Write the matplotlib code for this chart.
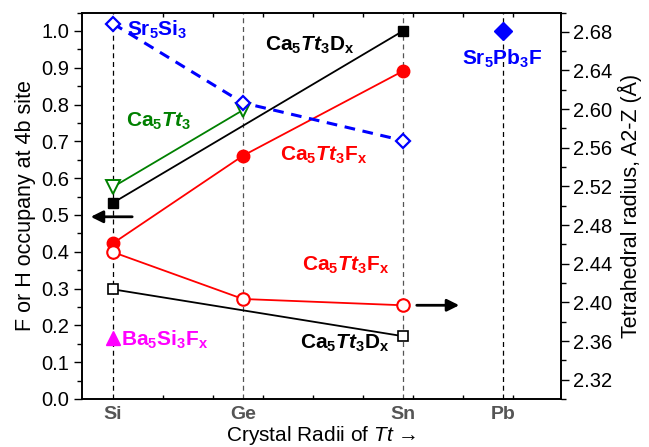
import matplotlib
matplotlib.use("Agg")
import matplotlib.pyplot as plt
from matplotlib.ticker import MultipleLocator, FormatStrFormatter

plt.rcParams['font.family'] = ['Liberation Sans', 'DejaVu Sans']
plt.rcParams['mathtext.fontset'] = 'custom'
plt.rcParams['mathtext.rm'] = 'Liberation Sans'
plt.rcParams['mathtext.it'] = 'Liberation Sans:italic'
plt.rcParams['mathtext.bf'] = 'Liberation Sans:bold'
plt.rcParams['mathtext.bfit'] = 'Liberation Sans:bold:italic'

# Data
elements = ["Si", "Ge", "Sn", "Pb"]
radii = [0.40, 0.53, 0.69, 0.79]

# Left axis (F or H occupancy)
caD_x = [0.40, 0.69]
caD_occ = [0.533, 1.0]
caF_occ = [0.423, 0.661, 0.891]
ca_x = [0.40, 0.53]
ca_occ = [0.576, 0.785]
ba_x = [0.40]
ba_occ = [0.165]

# Right axis (tetrahedral radius)
caF_rad = [2.452, 2.4035, 2.397]
caD_rad = [2.4135, 2.365]
sr_rad = [2.6885, 2.6065, 2.5675]
srpb_x = [0.79]
srpb_rad = [2.681]

fig = plt.figure(figsize=(6.49, 4.47), dpi=100)
ax = fig.add_axes([0.1263, 0.1074, 0.8644 - 0.1263, 0.972 - 0.1074])
ax2 = ax.twinx()

ax.set_xlim(0.369, 0.848)
ax.set_ylim(0, 1.05)
ax2.set_ylim(2.30, 2.70)

# vertical guide lines
vcols = ['black', '#555555', '#555555', 'black']
for r, c in zip(radii, vcols):
    ax.axvline(r, color=c, ls=(0, (4, 3)), lw=0.9, zorder=1)

# left-axis series
ax.plot(caD_x, caD_occ, '-', color='black', lw=1.3, marker='s', ms=7.5,
        mfc='black', mec='black', zorder=3)
ax.plot(radii[:3], caF_occ, '-', color='red', lw=1.3, marker='o', ms=9,
        mfc='red', mec='red', zorder=3)
ax.plot(ca_x, ca_occ, '-', color='green', lw=1.3, marker='v', ms=9.5,
        mfc='white', mec='green', mew=1.4, zorder=3)
ax.plot(ba_x, ba_occ, '^', color='magenta', ms=9.5, zorder=3)

# right-axis series
ax2.plot(radii[:3], sr_rad, color='blue', ls=(0, (3.5, 2.5)), lw=2.2,
         marker='D', ms=7.5, mfc='white', mec='blue', mew=1.6, zorder=3)
ax2.plot(radii[:3], caF_rad, '-', color='red', lw=1.3, marker='o', ms=9,
         mfc='white', mec='red', mew=1.5, zorder=3)
ax2.plot(caD_x, caD_rad, '-', color='black', lw=1.3, marker='s', ms=7.5,
         mfc='white', mec='black', mew=1.2, zorder=3)
ax2.plot(srpb_x, srpb_rad, 'D', color='blue', ms=9, zorder=3)

# arrows
ax.annotate('', xy=(0.375, 0.495), xytext=(0.422, 0.495),
            arrowprops=dict(arrowstyle='-|>', color='black', lw=2,
                            mutation_scale=18))
ax2.annotate('', xy=(0.749, 2.397), xytext=(0.701, 2.397),
             arrowprops=dict(arrowstyle='-|>', color='black', lw=2,
                             mutation_scale=18))

fs = 15
def lab(x, y, s, c, ha='left'):
    ax.text(x, y, s, color=c, fontsize=fs, ha=ha, va='center', zorder=5)

lab(0.414, 1.003, r'$\mathbf{Sr}_\mathbf{5}\mathbf{Si}_\mathbf{3}$', 'blue')
lab(0.789, 0.925, r'$\mathbf{Sr}_\mathbf{5}\mathbf{Pb}_\mathbf{3}\mathbf{F}$', 'blue', ha='center')
lab(0.552, 0.96, r'$\mathbf{Ca}_\mathbf{5}\mathbfit{Tt}_\mathbf{3}\mathbf{D}_\mathbf{x}$', 'black')
lab(0.413, 0.753, r'$\mathbf{Ca}_\mathbf{5}\mathbfit{Tt}_\mathbf{3}$', 'green')
lab(0.567, 0.663, r'$\mathbf{Ca}_\mathbf{5}\mathbfit{Tt}_\mathbf{3}\mathbf{F}_\mathbf{x}$', 'red')
lab(0.589, 0.364, r'$\mathbf{Ca}_\mathbf{5}\mathbfit{Tt}_\mathbf{3}\mathbf{F}_\mathbf{x}$', 'red')
lab(0.587, 0.152, r'$\mathbf{Ca}_\mathbf{5}\mathbfit{Tt}_\mathbf{3}\mathbf{D}_\mathbf{x}$', 'black')
lab(0.408, 0.16, r'$\mathbf{Ba}_\mathbf{5}\mathbf{Si}_\mathbf{3}\mathbf{F}_\mathbf{x}$', 'magenta')

# ticks
ax.yaxis.set_major_locator(MultipleLocator(0.1))
ax.yaxis.set_minor_locator(MultipleLocator(0.05))
ax.yaxis.set_major_formatter(FormatStrFormatter('%.1f'))
ax.tick_params(axis='y', which='major', direction='out', length=6, width=1,
               labelsize=14.5, pad=3)
ax.tick_params(axis='y', which='minor', direction='out', length=3.5, width=1)

ax2.yaxis.set_major_locator(MultipleLocator(0.04))
ax2.yaxis.set_minor_locator(MultipleLocator(0.02))
ax2.yaxis.set_major_formatter(FormatStrFormatter('%.2f'))
ax2.tick_params(axis='y', which='major', direction='out', length=6, width=1,
                labelsize=14.5, pad=3)
ax2.tick_params(axis='y', which='minor', direction='out', length=3.5, width=1)

# x ticks: minor small ticks every 0.05, labels at element positions
ax.set_xticks(radii)
ax.set_xticklabels(elements, fontsize=14, fontweight='bold', color='#555555')
ax.tick_params(axis='x', which='major', length=0, pad=5)
ax.set_xticks([0.40, 0.45, 0.50, 0.55, 0.60, 0.65, 0.70, 0.75, 0.80], minor=True)
ax.tick_params(axis='x', which='minor', direction='in', length=3, width=1,
               top=True, bottom=True)

for a in (ax, ax2):
    for s in a.spines.values():
        s.set_linewidth(1.2)

ax.set_ylabel('F or H occupany at 4b site', fontsize=15.5, labelpad=4)
ax2.set_ylabel('Tetrahedral radius, A2-Z (Å)', fontsize=15.5, labelpad=4)
ax.set_xlabel(r'Crystal Radii of $Tt$ →', fontsize=15, labelpad=1)

fig.savefig('out.png', dpi=100)
